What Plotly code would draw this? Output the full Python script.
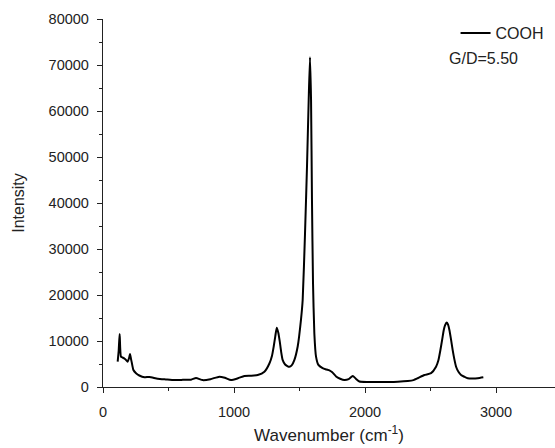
import plotly.graph_objects as go

wavenumber = [112, 120, 127, 137, 150, 163, 175, 188, 200, 206, 213, 219, 232, 252, 277, 316, 354, 417, 480, 545,
              610, 672, 710, 761, 820, 888, 930, 977, 1030, 1079, 1130, 1181, 1232, 1270, 1290, 1303, 1315, 1326,
              1338, 1349, 1360, 1371, 1390, 1410, 1422, 1440, 1461, 1486, 1511, 1524, 1542, 1557, 1570, 1580,
              1588, 1595, 1603, 1613, 1626, 1644, 1676, 1705, 1728, 1750, 1779, 1810, 1842, 1875, 1906, 1930,
              1957, 2020, 2100, 2173, 2250, 2326, 2370, 2402, 2453, 2504, 2542, 2560, 2575, 2590, 2601, 2612,
              2623, 2633, 2644, 2656, 2669, 2682, 2695, 2713, 2733, 2760, 2784, 2820, 2860, 2903]
intensity = [5500, 8000, 11500, 6600, 6400, 6200, 5900, 5500, 6400, 7200, 6200, 5400, 3700, 3000, 2500, 2100, 2200,
             1800, 1650, 1500, 1550, 1600, 1950, 1500, 1700, 2250, 2000, 1500, 1900, 2400, 2450, 2600, 3300, 5100,
             6800, 8800, 11000, 12900, 11800, 9900, 7600, 5900, 4900, 4500, 4400, 4700, 5900, 8800, 14600, 18900,
             33400, 47900, 62400, 71700, 62400, 40700, 22500, 11700, 6600, 4800, 4100, 3800, 3600, 3200, 2300,
             1800, 1500, 1700, 2400, 1800, 1200, 1100, 1100, 1100, 1150, 1300, 1500, 1900, 2600, 3000, 4400, 5800,
             8000, 10500, 12400, 13500, 14000, 13600, 12400, 10400, 8000, 6000, 4400, 3300, 2600, 2200, 1900, 1850,
             1900, 2100]

series_name = "COOH"
ratio_label = "G/D=5.50"
x_tick_values = [0, 1000, 2000, 3000]
y_tick_values = [0, 10000, 20000, 30000, 40000, 50000, 60000, 70000, 80000]

font_family = "Liberation Sans, Arial, sans-serif"
ink = "#222"

fig = go.Figure()
fig.add_trace(go.Scatter(x=wavenumber, y=intensity, mode="lines", name=series_name,
                         line=dict(color="black", width=2, shape="spline", smoothing=0.5)))

axis_common = dict(showline=True, linecolor=ink, linewidth=1.3, ticks="outside", ticklen=5,
                   tickwidth=1.3, tickcolor=ink, showgrid=False, zeroline=False, tickformat="d",
                   tickfont=dict(size=14.5, color=ink, family=font_family))

fig.update_xaxes(range=[0, 3450], tickvals=x_tick_values, **axis_common, ticklabelstandoff=6,
                 minor=dict(ticks="outside", ticklen=3, tickwidth=1.3, tickcolor=ink, dtick=500, tick0=0),
                 title=dict(text="Wavenumber (cm<sup>-1</sup>)", font=dict(size=17, color=ink, family=font_family),
                            standoff=10))
fig.update_yaxes(range=[0, 80000], tickvals=y_tick_values, **axis_common, ticklabelstandoff=5,
                 minor=dict(ticks="outside", ticklen=3, tickwidth=1.3, tickcolor=ink, dtick=5000, tick0=0),
                 title=dict(text="Intensity", font=dict(size=16, color=ink, family=font_family), standoff=20))

fig.add_annotation(xref="paper", yref="paper", x=0.762, y=0.893, xanchor="left", yanchor="middle",
                   text=ratio_label, showarrow=False, font=dict(size=16, color=ink, family=font_family))

fig.update_layout(
    width=555, height=448,
    margin=dict(l=103, r=0, t=19, b=61),
    paper_bgcolor="white", plot_bgcolor="white",
    showlegend=True,
    legend=dict(x=0.78, y=0.962, xanchor="left", yanchor="middle", bgcolor="rgba(0,0,0,0)",
                font=dict(size=16, color=ink, family=font_family), itemwidth=30),
    font=dict(family=font_family),
)

fig.write_html("out.html", config={"displayModeBar": False},
               post_script="document.body.style.margin='0';document.body.style.overflow='hidden';")
